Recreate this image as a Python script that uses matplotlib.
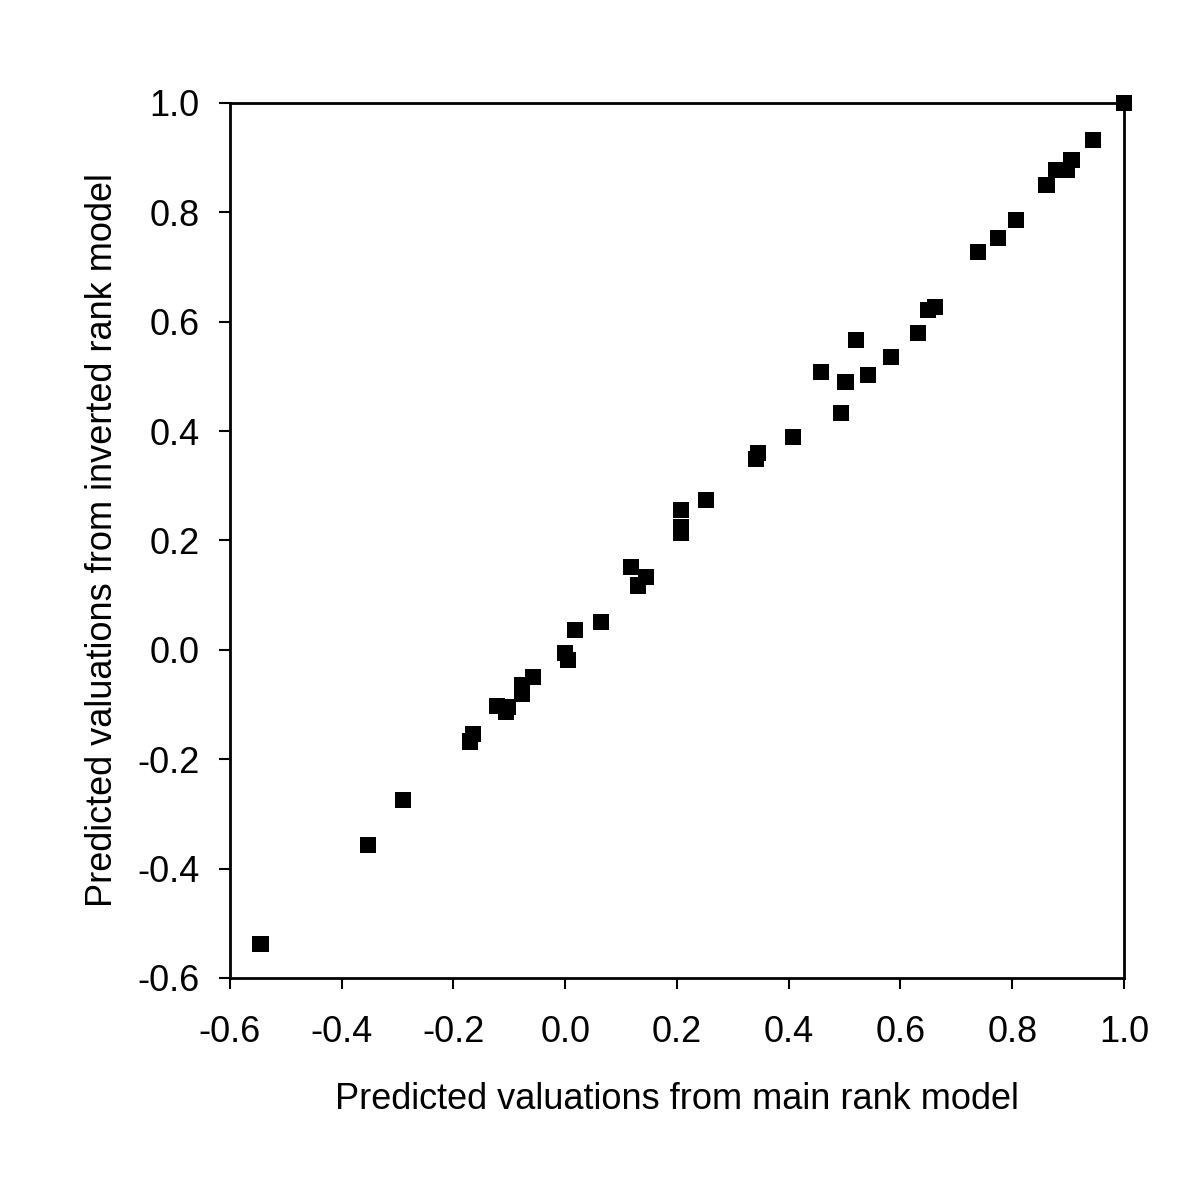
import numpy as np
import matplotlib.pyplot as plt

plt.rcParams['font.family'] = ['Liberation Sans', 'DejaVu Sans']

# Predicted valuations
main_rank = [-0.545, -0.353, -0.290, -0.170, -0.165, -0.122, -0.106, -0.103,
             -0.077, -0.077, -0.058, 0.000, 0.005, 0.018, 0.064, 0.118,
             0.145, 0.130, 0.207, 0.207, 0.207, 0.252, 0.341, 0.345,
             0.408, 0.494, 0.458, 0.502, 0.520, 0.542, 0.583, 0.631,
             0.649, 0.662, 0.739, 0.775, 0.807, 0.861, 0.879, 0.897,
             0.906, 0.945, 1.000]
inverted_rank = [-0.538, -0.357, -0.275, -0.168, -0.154, -0.103, -0.114, -0.105,
                 -0.064, -0.081, -0.050, -0.006, -0.019, 0.036, 0.051, 0.151,
                 0.133, 0.118, 0.256, 0.224, 0.214, 0.274, 0.349, 0.360,
                 0.389, 0.433, 0.508, 0.490, 0.567, 0.503, 0.535, 0.579,
                 0.621, 0.627, 0.727, 0.753, 0.786, 0.850, 0.877, 0.877,
                 0.896, 0.932, 1.000]

ticks = np.arange(-0.6, 1.01, 0.2)
tick_labels = ['%.1f' % t for t in ticks]

fig = plt.figure(figsize=(11.97, 11.97), dpi=100)
ax = fig.add_axes([0.1921, 0.1830, 0.7469, 0.7310])

ax.scatter(main_rank, inverted_rank, marker='s', s=140, color='black',
           edgecolors='none', clip_on=False, zorder=3)

ax.set_xlim(-0.6, 1.0)
ax.set_ylim(-0.6, 1.0)
ax.set_xticks(ticks)
ax.set_xticklabels(tick_labels)
ax.set_yticks(ticks)
ax.set_yticklabels(tick_labels)
ax.tick_params(direction='out', length=8, width=1.5, labelsize=26, colors='black')
ax.tick_params(axis='x', pad=19)
ax.tick_params(axis='y', pad=14)

for sp in ax.spines.values():
    sp.set_linewidth(2)
    sp.set_color('black')

ax.set_xlabel('Predicted valuations from main rank model', fontsize=26, labelpad=23)
ax.set_ylabel('Predicted valuations from inverted rank model', fontsize=26, labelpad=12)

plt.savefig('out.png', dpi=100)
